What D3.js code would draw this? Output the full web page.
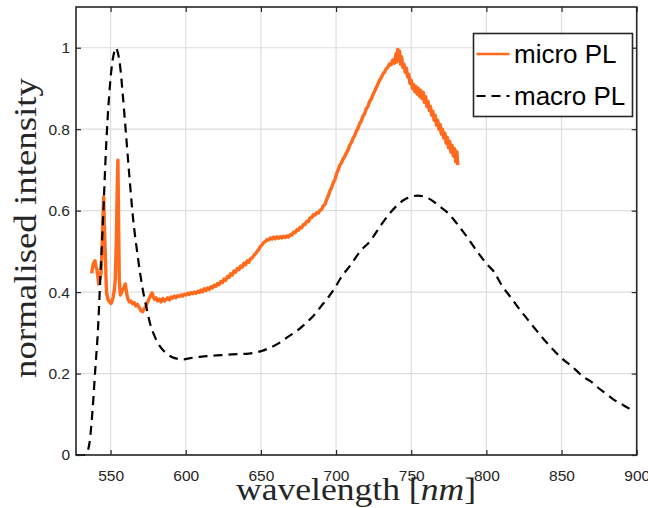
<!DOCTYPE html>
<html>
<head>
<meta charset="utf-8">
<script src="https://cdn.jsdelivr.net/npm/d3@7"></script>
<style>
  html, body { margin: 0; padding: 0; background: #fff; }
  svg { display: block; }
</style>
</head>
<body>
<svg id="chart" width="648" height="508"></svg>
<script>
// Photoluminescence spectra: micro PL (single spot) vs macro PL (ensemble)
const wavelengthTicks = [550, 600, 650, 700, 750, 800, 850, 900];
const intensityTicks = [0, 0.2, 0.4, 0.6, 0.8, 1];
const intensityTickLabels = ["0", "0.2", "0.4", "0.6", "0.8", "1"];
const seriesNames = ["micro PL", "macro PL"];

// micro PL: [wavelength nm, normalised intensity]
const microPL = [
  [537.4,0.446],[538.5,0.470],[539.6,0.477],[540.3,0.462],[540.8,0.458],[541.5,0.440],
  [542.1,0.420],[542.8,0.432],[543.6,0.446],[544.3,0.500],[544.9,0.580],[545.4,0.634],
  [545.9,0.560],[546.5,0.496],[547.0,0.430],[547.4,0.397],[548.3,0.382],[549.2,0.376],
  [550.3,0.372],[551.0,0.378],[551.8,0.389],[552.5,0.405],[553.1,0.430],[553.8,0.520],
  [554.4,0.650],[554.9,0.724],[555.3,0.580],[555.8,0.430],[556.5,0.393],[557.2,0.398],
  [558.0,0.405],[559.0,0.412],[559.8,0.420],[560.4,0.405],[560.9,0.393],[561.7,0.382],
  [562.5,0.376],[563.5,0.378],[564.5,0.372],[565.8,0.374],[566.8,0.366],[567.8,0.370],
  [569.1,0.362],[570.2,0.354],[571.4,0.352],[572.5,0.360],[573.6,0.366],[574.7,0.376],
  [575.8,0.385],[576.7,0.392],[577.6,0.398],[578.4,0.389],[579.2,0.382],[580.2,0.386],
  [581.3,0.378],[582.5,0.383],[583.6,0.376],[584.8,0.384],[585.9,0.378],[586.9,0.382],
  [588.0,0.386],[589.2,0.381],[590.3,0.388],[591.3,0.385],[592.4,0.390],[593.5,0.386],
  [594.6,0.391],[595.7,0.389],[596.8,0.393],[597.9,0.390],[599.0,0.395],[600.2,0.393],
  [601.3,0.397],[602.4,0.394],[603.5,0.399],[604.6,0.396],[605.7,0.400],[606.8,0.397],
  [607.9,0.402],[609.0,0.399],[610.1,0.405],[611.2,0.401],[612.3,0.408],[613.4,0.404],
  [614.5,0.410],[615.6,0.406],[616.7,0.413],[617.8,0.410],[618.9,0.417],[620.0,0.414],
  [621.1,0.421],[622.2,0.418],[623.3,0.426],[624.4,0.423],[625.5,0.432],[626.6,0.429],
  [627.7,0.438],[628.8,0.436],[629.9,0.445],[631.0,0.442],[632.1,0.452],[633.2,0.449],
  [634.3,0.458],[635.4,0.455],[636.5,0.464],[637.6,0.461],[638.7,0.471],[639.8,0.467],
  [640.9,0.477],[642.0,0.473],[643.1,0.482],[644.2,0.484],[645.3,0.490],[646.4,0.494],
  [647.5,0.500],[648.6,0.505],[649.7,0.512],[650.8,0.516],[651.9,0.522],[653.0,0.524],
  [654.1,0.529],[655.2,0.528],[656.3,0.533],[657.4,0.530],[658.5,0.535],[659.6,0.531],
  [660.7,0.536],[661.8,0.532],[662.9,0.536],[664.0,0.533],[665.1,0.537],[666.2,0.534],
  [667.3,0.538],[668.4,0.535],[669.5,0.541],[670.6,0.540],[671.7,0.547],[672.8,0.546],
  [673.9,0.553],[675.0,0.552],[676.1,0.559],[677.2,0.558],[678.3,0.566],[679.4,0.566],
  [680.5,0.574],[681.6,0.573],[682.7,0.582],[683.8,0.583],[684.9,0.590],[686.0,0.589],
  [687.1,0.595],[688.2,0.594],[689.3,0.601],[690.4,0.603],[691.5,0.612],[692.6,0.615],
  [693.7,0.627],[694.8,0.636],[695.9,0.648],[697.0,0.656],[698.1,0.668],[699.2,0.676],
  [700.3,0.690],[701.4,0.700],[702.5,0.712],[703.6,0.717],[704.7,0.727],[705.8,0.733],
  [706.9,0.742],[708.0,0.749],[709.1,0.761],[710.2,0.767],[711.3,0.778],[712.4,0.784],
  [713.5,0.795],[714.6,0.802],[715.7,0.814],[716.8,0.820],[717.9,0.832],[719.0,0.838],
  [720.1,0.850],[721.2,0.856],[722.3,0.868],[723.4,0.874],[724.5,0.885],[725.6,0.892],
  [726.7,0.902],[727.8,0.910],[728.9,0.920],[730.0,0.926],[731.1,0.935],[732.2,0.940],
  [733.3,0.948],[734.4,0.952],[735.5,0.960],[736.6,0.958],[737.7,0.970],[738.8,0.962],
  [739.9,0.985],[740.4,0.965],[741.0,0.996],[741.6,0.970],[742.2,0.992],[742.9,0.960],
  [743.6,0.978],[744.4,0.952],[745.2,0.960],[746.0,0.940],[746.8,0.950],[747.6,0.928],
  [748.4,0.935],[749.2,0.912],[750.0,0.920],[750.8,0.900],[751.6,0.910],[752.4,0.892],
  [753.2,0.905],[754.0,0.886],[754.8,0.900],[755.6,0.880],[756.4,0.895],[757.2,0.875],
  [758.0,0.890],[758.8,0.866],[759.6,0.880],[760.4,0.856],[761.2,0.868],[762.0,0.846],
  [762.8,0.856],[763.6,0.834],[764.4,0.844],[765.2,0.822],[766.0,0.834],[766.8,0.810],
  [767.6,0.822],[768.4,0.800],[769.2,0.812],[770.0,0.788],[770.8,0.800],[771.6,0.778],
  [772.4,0.790],[773.2,0.766],[774.0,0.780],[774.8,0.754],[775.6,0.770],[776.4,0.744],
  [777.2,0.760],[778.0,0.734],[778.8,0.752],[779.6,0.720],[780.4,0.745],[781.0,0.712]
];

// macro PL: [wavelength nm, normalised intensity]
const macroPL = [
  [527,0.000],[532,0.000],[534,0.005],[536,0.030],[538,0.110],[540,0.220],[541.5,0.300],
  [543,0.420],[545,0.580],[547,0.755],[549,0.880],[551,0.960],[552.5,0.990],[553.5,1.000],
  [555,0.985],[556.5,0.950],[558,0.890],[560,0.800],[562.5,0.685],[565,0.580],[568,0.490],
  [571,0.415],[574,0.360],[576.5,0.320],[579.5,0.290],[583,0.266],[587,0.250],[591,0.240],
  [595,0.236],[598.5,0.235],[603,0.238],[609.5,0.241],[618,0.244],[627,0.246],[636,0.248],
  [642,0.249],[647,0.252],[651,0.256],[657,0.265],[663,0.277],[668,0.290],[674,0.305],
  [680,0.324],[685,0.342],[690,0.365],[695,0.388],[700,0.415],[703,0.434],[710,0.468],
  [716,0.500],[722.6,0.525],[730,0.565],[735,0.590],[740.4,0.612],[745,0.626],[750,0.634],
  [754,0.637],[758,0.635],[763,0.627],[768,0.613],[773.6,0.597],[780,0.570],[787,0.536],
  [795,0.494],[800,0.470],[805,0.450],[810,0.418],[816,0.388],[822.4,0.356],[827,0.335],
  [831.3,0.315],[838,0.285],[844.6,0.258],[850,0.238],[855.7,0.221],[860,0.207],[864.5,0.192],
  [867,0.186],[869,0.182],[873.4,0.168],[878,0.155],[882.3,0.143],[886,0.133],[889,0.127],
  [894.5,0.115],[897,0.110]
];

const plot = { left: 76, right: 636.7, top: 7, bottom: 455 };
const axisColor = "#262626";
const microColor = "#ff6a1c";

const x = d3.scaleLinear().domain([527, 900]).range([plot.left, plot.right]);
const y = d3.scaleLinear().domain([0, 1.1]).range([plot.bottom, plot.top]);

const svg = d3.select("#chart");

// grid
const grid = svg.append("g").attr("stroke", "#dedede").attr("stroke-width", 1.2);
grid.selectAll("line.vx").data(wavelengthTicks).join("line")
  .attr("x1", d => x(d)).attr("x2", d => x(d))
  .attr("y1", plot.top).attr("y2", plot.bottom);
grid.selectAll("line.hy").data(intensityTicks).join("line")
  .attr("x1", plot.left).attr("x2", plot.right)
  .attr("y1", d => y(d)).attr("y2", d => y(d));

// series
const line = d3.line().x(d => x(d[0])).y(d => y(d[1]));
svg.append("path").datum(microPL)
  .attr("d", line).attr("fill", "none")
  .attr("stroke", microColor).attr("stroke-width", 3.4)
  .attr("stroke-linejoin", "round");
svg.append("path").datum(macroPL)
  .attr("d", d3.line().curve(d3.curveMonotoneX).x(d => x(d[0])).y(d => y(d[1])))
  .attr("fill", "none")
  .attr("stroke", "#000").attr("stroke-width", 2.2)
  .attr("stroke-dasharray", "9,6");

// axes
const fontTick = "'Liberation Sans', Arial, Helvetica, sans-serif";
const xAxis = d3.axisBottom(x).tickValues(wavelengthTicks).tickFormat(d3.format("d"))
  .tickSizeInner(-5).tickSizeOuter(0).tickPadding(15);
const yAxis = d3.axisLeft(y).tickValues(intensityTicks)
  .tickFormat((d, i) => intensityTickLabels[i])
  .tickSizeInner(-5).tickSizeOuter(0).tickPadding(6);

const gx = svg.append("g").attr("transform", `translate(0,${plot.bottom})`).call(xAxis);
const gy = svg.append("g").attr("transform", `translate(${plot.left},0)`).call(yAxis);
// mirrored ticks on top and right
const gxTop = svg.append("g").attr("transform", `translate(0,${plot.top})`)
  .call(d3.axisTop(x).tickValues(wavelengthTicks).tickSizeInner(-5).tickSizeOuter(0).tickFormat(""));
const gyRight = svg.append("g").attr("transform", `translate(${plot.right},0)`)
  .call(d3.axisRight(y).tickValues(intensityTicks).tickSizeInner(-5).tickSizeOuter(0).tickFormat(""));

[gx, gy, gxTop, gyRight].forEach(g => {
  g.select(".domain").remove();
  g.selectAll(".tick line").attr("stroke", axisColor).attr("stroke-width", 1.2);
  g.selectAll(".tick text").attr("fill", axisColor)
    .style("font-family", fontTick).style("font-size", "15.5px");
});

// frame
svg.append("rect")
  .attr("x", plot.left).attr("y", plot.top)
  .attr("width", plot.right - plot.left).attr("height", plot.bottom - plot.top)
  .attr("fill", "none").attr("stroke", axisColor).attr("stroke-width", 1.6);

// axis titles
const fontTitle = "'Liberation Serif', 'Times New Roman', serif";
const xTitle = svg.append("text")
  .attr("x", 236).attr("y", 500)
  .attr("textLength", 240).attr("lengthAdjust", "spacingAndGlyphs")
  .attr("fill", axisColor)
  .style("font-family", fontTitle).style("font-size", "32px");
xTitle.append("tspan").text("wavelength [");
xTitle.append("tspan").style("font-style", "italic").text("nm");
xTitle.append("tspan").text("]");

svg.append("text")
  .attr("transform", "translate(36,378) rotate(-90)")
  .attr("textLength", 300).attr("lengthAdjust", "spacingAndGlyphs")
  .attr("fill", axisColor)
  .style("font-family", fontTitle).style("font-size", "32px")
  .text("normalised intensity");

// legend
const legend = svg.append("g");
legend.append("rect")
  .attr("x", 473.5).attr("y", 33.5).attr("width", 159).attr("height", 83)
  .attr("fill", "#fff").attr("stroke", axisColor).attr("stroke-width", 1.6);
const rows = [
  { name: seriesNames[0], color: microColor, dash: null, width: 2.6, cy: 54 },
  { name: seriesNames[1], color: "#000", dash: "9,6", width: 2.2, cy: 96 }
];
rows.forEach(r => {
  legend.append("line")
    .attr("x1", 476.5).attr("x2", 509.5).attr("y1", r.cy).attr("y2", r.cy)
    .attr("stroke", r.color).attr("stroke-width", r.width)
    .attr("stroke-dasharray", r.dash);
  legend.append("text")
    .attr("x", 514).attr("y", r.cy + 9)
    .attr("fill", "#000")
    .style("font-family", fontTick).style("font-size", "26px")
    .text(r.name);
});
</script>
</body>
</html>
